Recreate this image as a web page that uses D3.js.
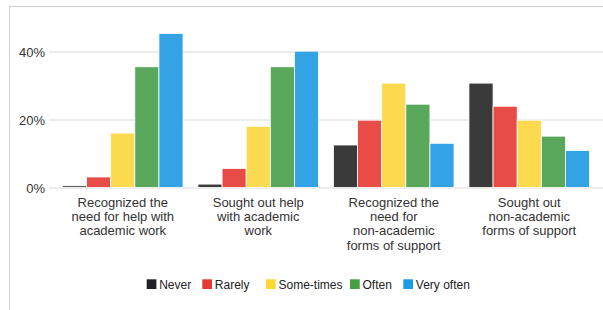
<!DOCTYPE html>
<html>
<head>
<meta charset="utf-8">
<script src="https://cdn.jsdelivr.net/npm/d3@7"></script>
<style>
  html, body { margin: 0; padding: 0; background: #fff; }
  svg { display: block; font-family: "Liberation Sans", Arial, Helvetica, sans-serif; }
</style>
</head>
<body>
<svg id="chart" width="603" height="310"></svg>
<script>
const categories = [
  ["Recognized the", "need for help with", "academic work"],
  ["Sought out help", "with academic", "work"],
  ["Recognized the", "need for", "non-academic", "forms of support"],
  ["Sought out", "non-academic", "forms of support"]
];
const seriesNames = ["Never", "Rarely", "Some-times", "Often", "Very often"];
const never     = [0.5, 1.0, 12.5, 30.7];
const rarely    = [3.1, 5.6, 19.8, 23.9];
const sometimes = [16.0, 18.0, 30.7, 19.8];
const often     = [35.5, 35.5, 24.5, 15.1];
const veryOften = [45.3, 40.1, 13.0, 10.9];
const yTicks = [0, 20, 40];
const barColors = ["#3a3a3a", "#e84c47", "#fcda4f", "#5aa85b", "#33a3e5"];
const legendColors = ["#222222", "#e53935", "#fdd835", "#43a047", "#1e9be8"];

const seriesValues = [never, rarely, sometimes, often, veryOften];

const svg = d3.select("#chart");

// frame (top and left border)
svg.append("line").attr("x1", 9).attr("x2", 603).attr("y1", 6.5).attr("y2", 6.5)
  .attr("stroke", "#cfcfcf").attr("stroke-width", 1);
svg.append("line").attr("x1", 9.5).attr("x2", 9.5).attr("y1", 6).attr("y2", 310)
  .attr("stroke", "#cfcfcf").attr("stroke-width", 1);

const y = d3.scaleLinear().domain([0, 40]).range([187.5, 51.5]);
const x0 = d3.scaleBand().domain(d3.range(categories.length))
  .range([55, 597]).paddingInner(0.11).paddingOuter(0.055);
const x1 = d3.scaleBand().domain(d3.range(seriesNames.length))
  .range([0, x0.bandwidth()]).padding(0);

// gridlines
const yAxis = d3.axisLeft(y).tickValues(yTicks).tickFormat(d => d + "%")
  .tickSize(-(603 - 49)).tickPadding(4);
const gAxis = svg.append("g").attr("transform", "translate(49,0)").call(yAxis);
gAxis.select(".domain").remove();
gAxis.selectAll(".tick line").attr("stroke", "#e6e6e6").attr("stroke-width", 1.5);
gAxis.selectAll(".tick text").attr("fill", "#333").attr("font-size", 13)
  .attr("x", -4).attr("dy", "0.35em");

// bars
const groups = svg.append("g").selectAll("g")
  .data(categories.map((c, i) => i))
  .join("g")
  .attr("transform", i => `translate(${x0(i)},0)`);

groups.selectAll("rect")
  .data(i => seriesValues.map((s, k) => ({ k, v: s[i] })))
  .join("rect")
  .attr("x", d => x1(d.k))
  .attr("width", x1.bandwidth())
  .attr("y", d => y(d.v))
  .attr("height", d => y(0) - y(d.v))
  .attr("fill", d => barColors[d.k])
  .attr("stroke", "#fff")
  .attr("stroke-width", 0.8);

// category labels
const xAxis = d3.axisBottom(x0).tickSize(0).tickFormat(() => "");
const gx = svg.append("g").attr("transform", `translate(0,${y(0)})`).call(xAxis);
gx.select(".domain").remove();
gx.selectAll(".tick").each(function(i) {
  const t = d3.select(this).append("text")
    .attr("fill", "#333").attr("font-size", 13).attr("text-anchor", "middle");
  categories[i].forEach((line, j) => {
    t.append("tspan").attr("x", 0).attr("y", 14.5 + j * 14.4 + 4.5).text(line);
  });
});

// legend
const legendX = [146.7, 202.3, 266, 350, 403.3];
const legend = svg.append("g");
seriesNames.forEach((name, k) => {
  const g = legend.append("g").attr("transform", `translate(${legendX[k]},279.3)`);
  g.append("rect").attr("width", 9.7).attr("height", 9.7).attr("fill", legendColors[k]);
  g.append("text").attr("x", 12.5).attr("y", 9.2).attr("font-size", 12)
    .attr("fill", "#222").text(name);
});
</script>
</body>
</html>
